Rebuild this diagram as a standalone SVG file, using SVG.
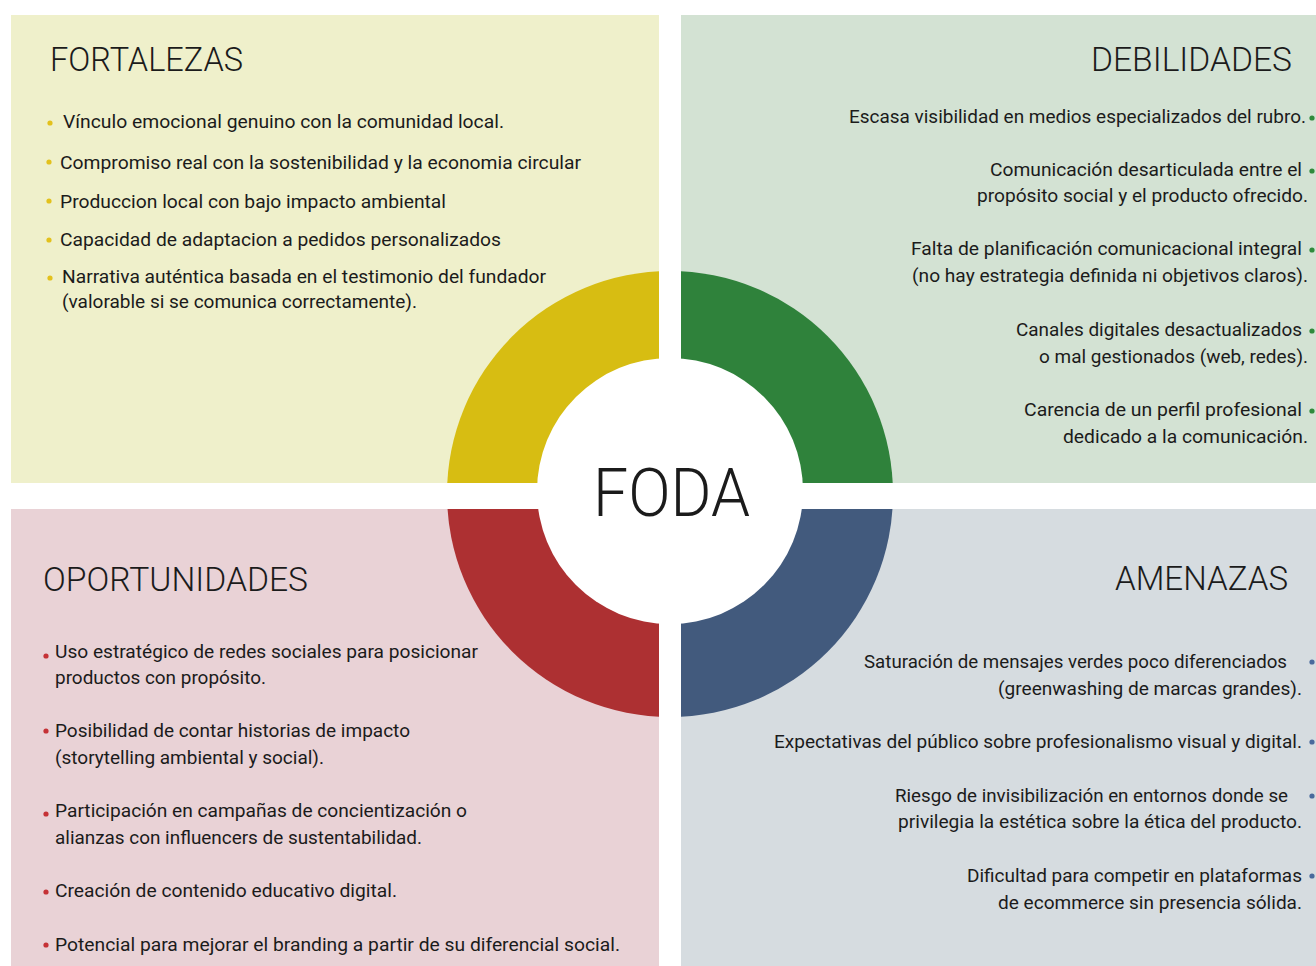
<svg xmlns="http://www.w3.org/2000/svg" width="1316" height="966" viewBox="0 0 1316 966">
<style>
text{font-family:Roboto,"Liberation Sans",sans-serif;fill:#1b1b1b;}
.h{font-size:34px;font-weight:300;}
.t{font-size:18px;font-weight:400;}
.f{font-size:66px;font-weight:300;}
.by{fill:#e3c11c;}
.bg{fill:#2f8a3c;}
.br{fill:#c53236;}
.bb{fill:#4a6a9c;}
</style>
<rect width="1316" height="966" fill="#ffffff"/>
<g id="fortalezas">
<rect x="11" y="15" width="648" height="468" fill="#eff0cb"/>
<text class="h" x="50" y="71" textLength="193" lengthAdjust="spacingAndGlyphs">FORTALEZAS</text>
<circle class="by" cx="50" cy="123" r="2.6"/>
<circle class="by" cx="49" cy="162" r="2.6"/>
<circle class="by" cx="49" cy="201" r="2.6"/>
<circle class="by" cx="49" cy="240" r="2.6"/>
<circle class="by" cx="50" cy="278" r="2.6"/>
<text class="t" x="63" y="128" textLength="441" lengthAdjust="spacingAndGlyphs">Vínculo emocional genuino con la comunidad local.</text>
<text class="t" x="60" y="169" textLength="521" lengthAdjust="spacingAndGlyphs">Compromiso real con la sostenibilidad y la economia circular</text>
<text class="t" x="60" y="208" textLength="386" lengthAdjust="spacingAndGlyphs">Produccion local con bajo impacto ambiental</text>
<text class="t" x="60" y="246" textLength="441" lengthAdjust="spacingAndGlyphs">Capacidad de adaptacion a pedidos personalizados</text>
<text class="t" x="62" y="283" textLength="484" lengthAdjust="spacingAndGlyphs">Narrativa auténtica basada en el testimonio del fundador</text>
<text class="t" x="62" y="308" textLength="355" lengthAdjust="spacingAndGlyphs">(valorable si se comunica correctamente).</text>
</g>
<g id="debilidades">
<rect x="681" y="15" width="635" height="468" fill="#d3e2d3"/>
<text class="h" x="1091" y="71" textLength="201" lengthAdjust="spacingAndGlyphs">DEBILIDADES</text>
<circle class="bg" cx="1312" cy="118" r="2.6"/>
<circle class="bg" cx="1312" cy="171" r="2.6"/>
<circle class="bg" cx="1312" cy="250" r="2.6"/>
<circle class="bg" cx="1312" cy="331" r="2.6"/>
<circle class="bg" cx="1312" cy="411" r="2.6"/>
<text class="t" x="849" y="123" textLength="457" lengthAdjust="spacingAndGlyphs">Escasa visibilidad en medios especializados del rubro.</text>
<text class="t" x="990" y="176" textLength="312" lengthAdjust="spacingAndGlyphs">Comunicación desarticulada entre el</text>
<text class="t" x="977" y="202" textLength="331" lengthAdjust="spacingAndGlyphs">propósito social y el producto ofrecido.</text>
<text class="t" x="911" y="255" textLength="391" lengthAdjust="spacingAndGlyphs">Falta de planificación comunicacional integral</text>
<text class="t" x="912" y="282" textLength="396" lengthAdjust="spacingAndGlyphs">(no hay estrategia definida ni objetivos claros).</text>
<text class="t" x="1016" y="336" textLength="286" lengthAdjust="spacingAndGlyphs">Canales digitales desactualizados</text>
<text class="t" x="1039" y="363" textLength="269" lengthAdjust="spacingAndGlyphs">o mal gestionados (web, redes).</text>
<text class="t" x="1024" y="416" textLength="278" lengthAdjust="spacingAndGlyphs">Carencia de un perfil profesional</text>
<text class="t" x="1063" y="443" textLength="245" lengthAdjust="spacingAndGlyphs">dedicado a la comunicación.</text>
</g>
<g id="oportunidades">
<rect x="11" y="509" width="648" height="457" fill="#e9d2d6"/>
<text class="h" x="43" y="591" textLength="265" lengthAdjust="spacingAndGlyphs">OPORTUNIDADES</text>
<circle class="br" cx="46" cy="656" r="2.6"/>
<circle class="br" cx="46" cy="731" r="2.6"/>
<circle class="br" cx="46" cy="814" r="2.6"/>
<circle class="br" cx="46" cy="892" r="2.6"/>
<circle class="br" cx="46" cy="945" r="2.6"/>
<text class="t" x="55" y="658" textLength="423" lengthAdjust="spacingAndGlyphs">Uso estratégico de redes sociales para posicionar</text>
<text class="t" x="55" y="684" textLength="211" lengthAdjust="spacingAndGlyphs">productos con propósito.</text>
<text class="t" x="55" y="737" textLength="355" lengthAdjust="spacingAndGlyphs">Posibilidad de contar historias de impacto</text>
<text class="t" x="55" y="764" textLength="269" lengthAdjust="spacingAndGlyphs">(storytelling ambiental y social).</text>
<text class="t" x="55" y="817" textLength="412" lengthAdjust="spacingAndGlyphs">Participación en campañas de concientización o</text>
<text class="t" x="55" y="844" textLength="367" lengthAdjust="spacingAndGlyphs">alianzas con influencers de sustentabilidad.</text>
<text class="t" x="55" y="897" textLength="342" lengthAdjust="spacingAndGlyphs">Creación de contenido educativo digital.</text>
<text class="t" x="55" y="951" textLength="565" lengthAdjust="spacingAndGlyphs">Potencial para mejorar el branding a partir de su diferencial social.</text>
</g>
<g id="amenazas">
<rect x="681" y="509" width="635" height="457" fill="#d6dce0"/>
<text class="h" x="1115" y="590" textLength="173" lengthAdjust="spacingAndGlyphs">AMENAZAS</text>
<circle class="bb" cx="1312" cy="662" r="2.6"/>
<circle class="bb" cx="1312" cy="742" r="2.6"/>
<circle class="bb" cx="1312" cy="796" r="2.6"/>
<circle class="bb" cx="1312" cy="876" r="2.6"/>
<text class="t" x="864" y="668" textLength="423" lengthAdjust="spacingAndGlyphs">Saturación de mensajes verdes poco diferenciados</text>
<text class="t" x="998" y="695" textLength="304" lengthAdjust="spacingAndGlyphs">(greenwashing de marcas grandes).</text>
<text class="t" x="774" y="748" textLength="528" lengthAdjust="spacingAndGlyphs">Expectativas del público sobre profesionalismo visual y digital.</text>
<text class="t" x="895" y="802" textLength="393" lengthAdjust="spacingAndGlyphs">Riesgo de invisibilización en entornos donde se</text>
<text class="t" x="898" y="828" textLength="404" lengthAdjust="spacingAndGlyphs">privilegia la estética sobre la ética del producto.</text>
<text class="t" x="967" y="882" textLength="335" lengthAdjust="spacingAndGlyphs">Dificultad para competir en plataformas</text>
<text class="t" x="998" y="909" textLength="304" lengthAdjust="spacingAndGlyphs">de ecommerce sin presencia sólida.</text>
</g>
<g id="wheel">
<path d="M670,494 L447,494 A223,223 0 0 1 670,271 Z" fill="#d7bd12"/>
<path d="M670,494 L670,271 A223,223 0 0 1 893,494 Z" fill="#2f823b"/>
<path d="M670,494 L893,494 A223,223 0 0 1 670,717 Z" fill="#425a7d"/>
<path d="M670,494 L670,717 A223,223 0 0 1 447,494 Z" fill="#ad3032"/>
<rect x="659" y="262" width="22" height="464" fill="#ffffff"/>
<rect x="438" y="483" width="464" height="26" fill="#ffffff"/>
</g>
<g id="foda">
<circle cx="670" cy="491" r="133" fill="#ffffff"/>
<text class="f" x="593" y="516" textLength="157" lengthAdjust="spacingAndGlyphs">FODA</text>
</g>
</svg>
